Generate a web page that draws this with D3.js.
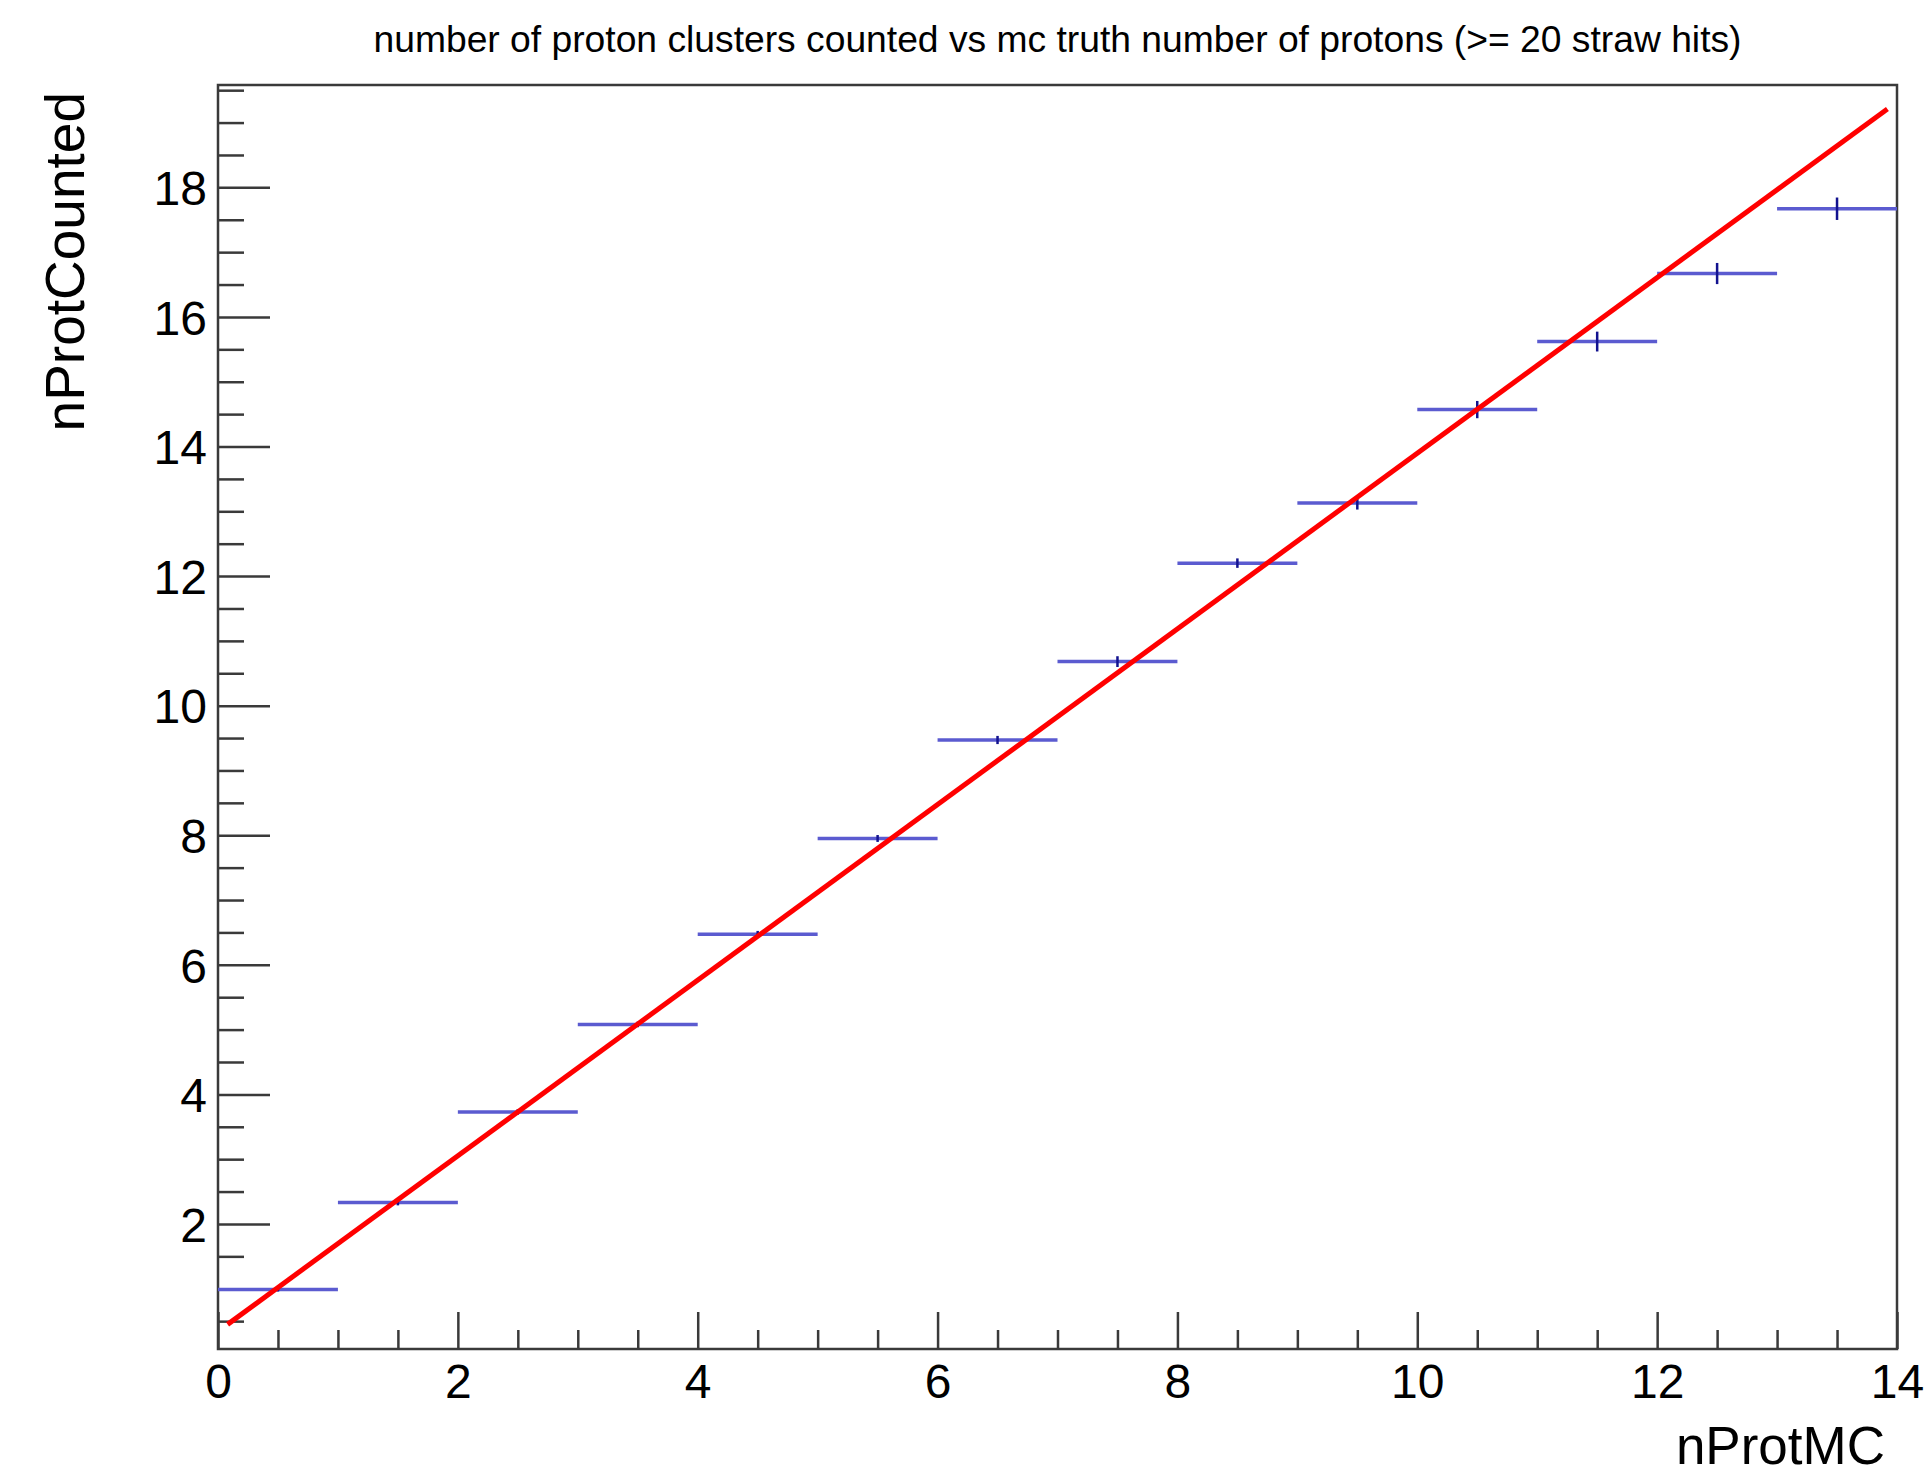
<!DOCTYPE html>
<html>
<head>
<meta charset="utf-8">
<script src="https://cdn.jsdelivr.net/npm/d3@7"></script>
<style>
  body { margin: 0; background: #fff; }
  text { font-family: "Liberation Sans", Arial, sans-serif; fill: #000; }
</style>
</head>
<body>
<div id="canvas-spot"></div>
<script>
// profile bins: lower edge, upper edge, mean counted, error on the mean
var binLow  = [0, 1, 2, 3, 4, 5, 6, 7, 8, 9, 10, 11, 12, 13];
var binHigh = [1, 2, 3, 4, 5, 6, 7, 8, 9, 10, 11, 12, 13, 14];
var binMean = [0.99, 2.33, 3.73, 5.08, 6.47, 7.95, 9.47, 10.68, 12.2, 13.13, 14.57, 15.62, 16.67, 17.67];
var binErr  = [0.01, 0.02, 0.02, 0.02, 0.03, 0.03, 0.04, 0.06, 0.05, 0.08, 0.11, 0.13, 0.14, 0.15];

// fitted straight line, end points
var fitX = [0.08, 13.92];
var fitY = [0.45, 19.21];

var xMajor = [0, 2, 4, 6, 8, 10, 12, 14];
var yMajor = [2, 4, 6, 8, 10, 12, 14, 16, 18];

var titleText = 'number of proton clusters counted vs mc truth number of protons (>= 20 straw hits)';
var xTitle = 'nProtMC';
var yTitle = 'nProtCounted';

var W = 1925, H = 1475;
// (window.top is read only, so no plain "top" here)
var padL = 218, padR = 1897, padT = 85, padB = 1349;

var svg = d3.select('#canvas-spot').append('svg')
    .attr('width', W)
    .attr('height', H);

var x = d3.scaleLinear().domain([0, 14]).range([padL, padR]);
var y = d3.scaleLinear().domain([0.07, 19.58]).range([padB, padT]);

// minor ticks every 0.5
var xMinor = d3.range(0.5, 14, 0.5).filter(function (v) { return v % 2 !== 0; });
var yMinor = d3.range(0.5, 19.6, 0.5).filter(function (v) { return v % 2 !== 0; });

var axisColor = '#3a3a3a';

var gxMinor = svg.append('g')
    .attr('transform', 'translate(0,' + padB + ')')
    .call(d3.axisBottom(x).tickValues(xMinor).tickSizeInner(-19).tickSizeOuter(0).tickFormat(''));
var gx = svg.append('g')
    .attr('transform', 'translate(0,' + padB + ')')
    .call(d3.axisBottom(x).tickValues(xMajor).tickSizeInner(-37).tickSizeOuter(0).tickPadding(15).tickFormat(d3.format('d')));

var gyMinor = svg.append('g')
    .attr('transform', 'translate(' + padL + ',0)')
    .call(d3.axisLeft(y).tickValues(yMinor).tickSizeInner(-26).tickSizeOuter(0).tickFormat(''));
var gy = svg.append('g')
    .attr('transform', 'translate(' + padL + ',0)')
    .call(d3.axisLeft(y).tickValues(yMajor).tickSizeInner(-52).tickSizeOuter(0).tickPadding(11).tickFormat(d3.format('d')));

[gxMinor, gx, gyMinor, gy].forEach(function (g) {
    g.select('.domain').remove();
    g.selectAll('.tick line').attr('stroke', axisColor).attr('stroke-width', 2.5);
    g.selectAll('.tick text')
        .attr('font-size', '48px')
        .attr('font-family', '"Liberation Sans", Arial, sans-serif')
        .attr('fill', '#000');
});
gy.selectAll('.tick text').attr('dy', '0.36em');

// frame
svg.append('rect')
    .attr('x', padL)
    .attr('y', padT)
    .attr('width', padR - padL)
    .attr('height', padB - padT)
    .attr('fill', 'none')
    .attr('stroke', axisColor)
    .attr('stroke-width', 2.5);

var bins = binLow.map(function (lo, i) {
    return { lo: lo, hi: binHigh[i], mean: binMean[i], err: binErr[i] };
});

// horizontal bin bars
svg.selectAll('line.bin')
    .data(bins).enter().append('line')
    .attr('class', 'bin')
    .attr('x1', function (d) { return x(d.lo); })
    .attr('x2', function (d) { return x(d.hi); })
    .attr('y1', function (d) { return y(d.mean); })
    .attr('y2', function (d) { return y(d.mean); })
    .attr('stroke', '#5b5bd0')
    .attr('stroke-width', 3.5);

// error bars
svg.selectAll('line.err')
    .data(bins).enter().append('line')
    .attr('class', 'err')
    .attr('x1', function (d) { return x((d.lo + d.hi) / 2); })
    .attr('x2', function (d) { return x((d.lo + d.hi) / 2); })
    .attr('y1', function (d) { return y(d.mean - d.err) + 1.5; })
    .attr('y2', function (d) { return y(d.mean + d.err) - 1.5; })
    .attr('stroke', '#12128f')
    .attr('stroke-width', 2.5);

// fit line
var fitPts = fitX.map(function (v, i) { return [v, fitY[i]]; });
svg.append('path')
    .datum(fitPts)
    .attr('d', d3.line().x(function (d) { return x(d[0]); }).y(function (d) { return y(d[1]); }))
    .attr('fill', 'none')
    .attr('stroke', '#ff0000')
    .attr('stroke-width', 5);

// title and axis titles
svg.append('text')
    .attr('x', (padL + padR) / 2)
    .attr('y', 52)
    .attr('text-anchor', 'middle')
    .attr('font-size', '37px')
    .attr('textLength', 1368)
    .attr('lengthAdjust', 'spacingAndGlyphs')
    .text(titleText);

svg.append('text')
    .attr('x', 1885)
    .attr('y', 1464)
    .attr('text-anchor', 'end')
    .attr('font-size', '53px')
    .text(xTitle);

svg.append('text')
    .attr('transform', 'translate(84,92) rotate(-90)')
    .attr('text-anchor', 'end')
    .attr('font-size', '55px')
    .text(yTitle);
</script>
</body>
</html>
